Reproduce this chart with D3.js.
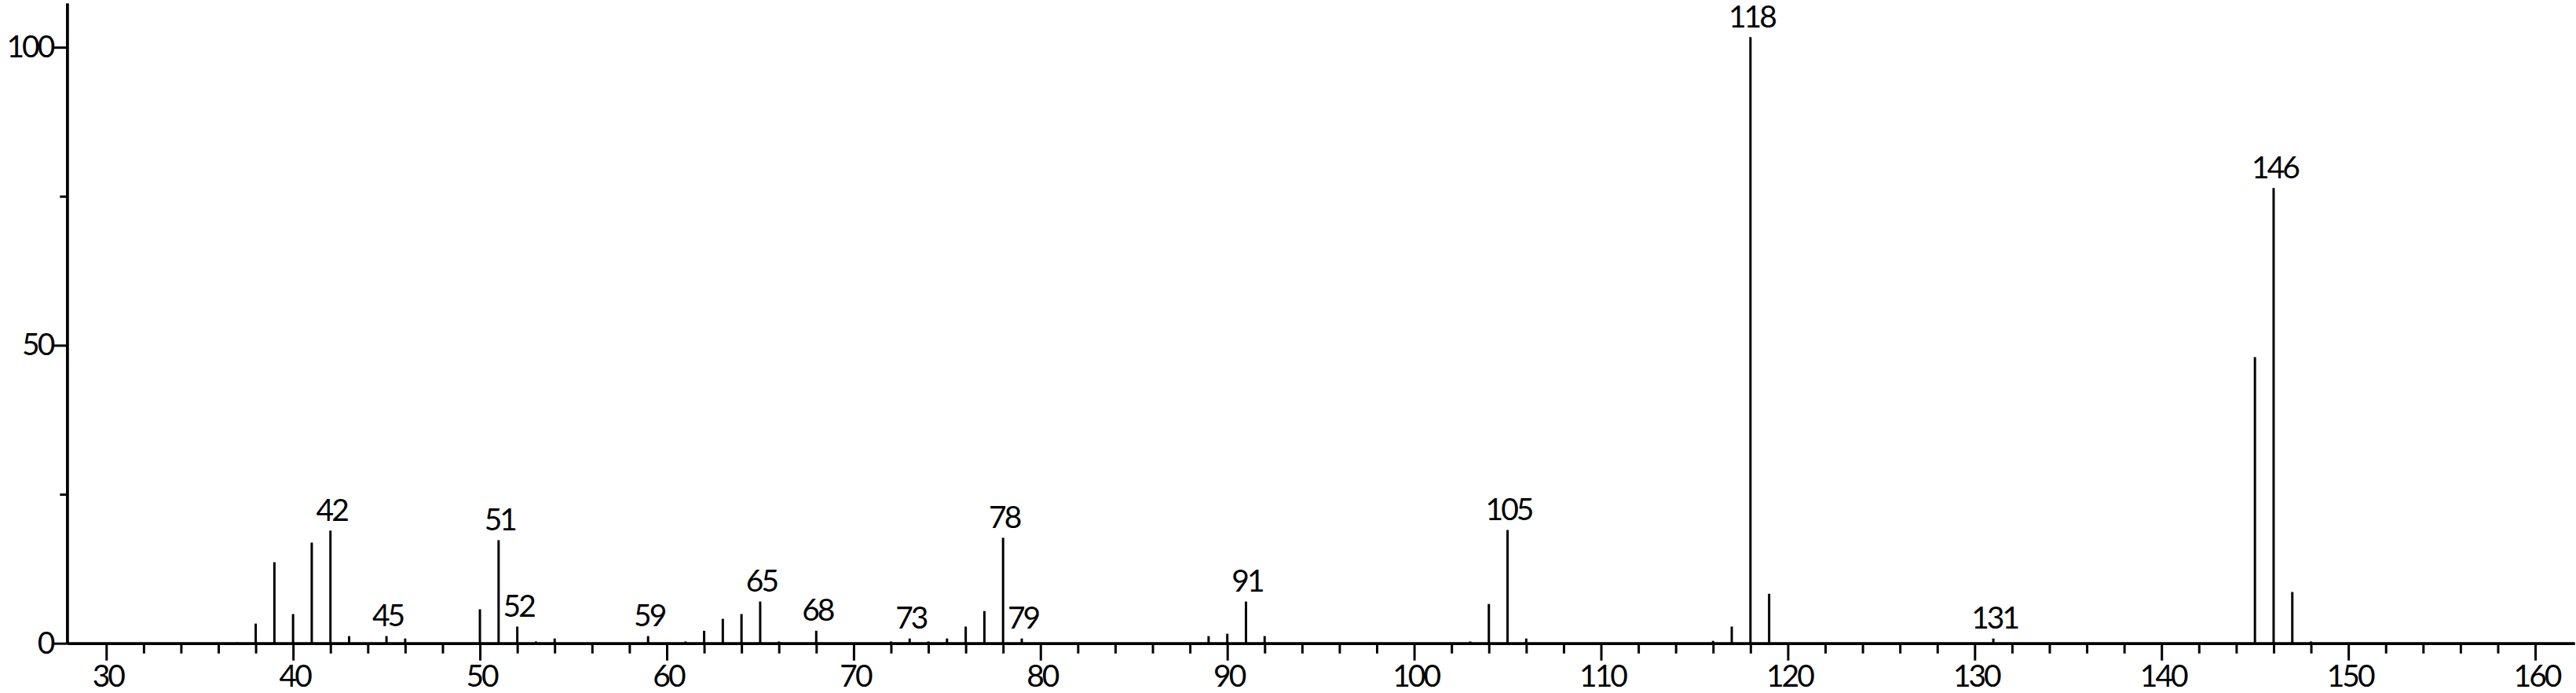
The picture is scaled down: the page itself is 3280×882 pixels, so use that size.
<!DOCTYPE html>
<html>
<head>
<meta charset="utf-8">
<script src="https://cdn.jsdelivr.net/npm/d3@7"></script>
<style>
  body { margin: 0; background: #fff; }
  svg { display: block; }
  text { font-family: Lato, "Open Sans", sans-serif; font-size: 39px; fill: #000; letter-spacing: -3px; }
</style>
</head>
<body>
<div id="chart"></div>
<script>
// mass spectrum: m/z and relative intensity
const mz = [37, 38, 39, 40, 41, 42, 43, 45, 46, 50, 51, 52, 53, 54, 59, 61, 62, 63, 64, 65, 66, 68,
            72, 73, 74, 75, 76, 77, 78, 79, 89, 90, 91, 92, 103, 104, 105, 106,
            116, 117, 118, 119, 131, 145, 146, 147, 148];
const intensity = [0.15, 3.3, 13.6, 4.9, 16.9, 18.9, 1.2, 1.2, 0.8, 5.7, 17.3, 2.8, 0.3, 0.8, 1.2, 0.3, 2.1, 4.1, 4.9, 7.0, 0.3, 2.1,
                   0.3, 0.8, 0.3, 0.8, 2.8, 5.4, 17.7, 0.8, 1.2, 1.6, 7.0, 1.2, 0.3, 6.6, 19.0, 0.8,
                   0.4, 2.8, 101.7, 8.3, 0.8, 48.0, 76.4, 8.6, 0.3];
const labeledPeaks = [42, 45, 51, 52, 59, 65, 68, 73, 78, 79, 91, 105, 118, 131, 146];

const xMajor = d3.range(30, 161, 10);
const xMinor = d3.range(32, 161, 2).filter(v => v % 10 !== 0);
const yMajor = [0, 50, 100];
const yMinor = [25, 75];

const width = 3280, height = 882;
const margin = { left: 85.3, right: 2, top: 4, bottom: 63.3 };

const peaks = mz.map((m, i) => ({ mz: m, value: intensity[i] }));

const x = d3.scaleLinear().domain([27.9, 162.1]).range([margin.left, width - margin.right]);
const y = d3.scaleLinear().domain([0, 107.4]).range([height - margin.bottom, margin.top]);

const svg = d3.select("#chart").append("svg")
  .attr("width", width)
  .attr("height", height);

// peaks
svg.append("g")
  .selectAll("line")
  .data(peaks)
  .join("line")
    .attr("x1", d => x(d.mz))
    .attr("x2", d => x(d.mz))
    .attr("y1", y(0))
    .attr("y2", d => y(d.value))
    .attr("stroke", "#000")
    .attr("stroke-width", 3);

// peak labels (letter-spacing shifts text left by half, compensate)
svg.append("g")
  .selectAll("text")
  .data(peaks.filter(d => labeledPeaks.includes(d.mz)))
  .join("text")
    .attr("x", d => x(d.mz) + 1.5)
    .attr("y", d => y(d.value) - 12.5)
    .attr("text-anchor", "middle")
    .text(d => d.mz);

// axes
const styleAxis = g => {
  g.selectAll(".domain").attr("stroke", "#000").attr("stroke-width", 3.5);
  g.selectAll(".tick line").attr("stroke", "#000").attr("stroke-width", 3);
  g.selectAll(".tick text").attr("font-size", null).attr("font-family", null);
};

svg.append("g")
  .attr("transform", `translate(0,${y(0)})`)
  .call(d3.axisBottom(x).tickValues(xMinor).tickSize(13).tickSizeOuter(0).tickFormat(""))
  .call(styleAxis);

svg.append("g")
  .attr("transform", `translate(0,${y(0)})`)
  .call(d3.axisBottom(x).tickValues(xMajor).tickSize(22).tickPadding(6).tickSizeOuter(0).tickFormat(d3.format("d")))
  .call(styleAxis)
  .call(g => g.selectAll(".tick text").attr("x", 1.5));

svg.append("g")
  .attr("transform", `translate(${margin.left},0)`)
  .call(d3.axisLeft(y).tickValues(yMinor).tickSize(9).tickSizeOuter(0).tickFormat(""))
  .call(styleAxis);

svg.append("g")
  .attr("transform", `translate(${margin.left},0)`)
  .call(d3.axisLeft(y).tickValues(yMajor).tickSize(18).tickPadding(0).tickSizeOuter(0).tickFormat(d3.format("d")))
  .call(styleAxis);
</script>
</body>
</html>
